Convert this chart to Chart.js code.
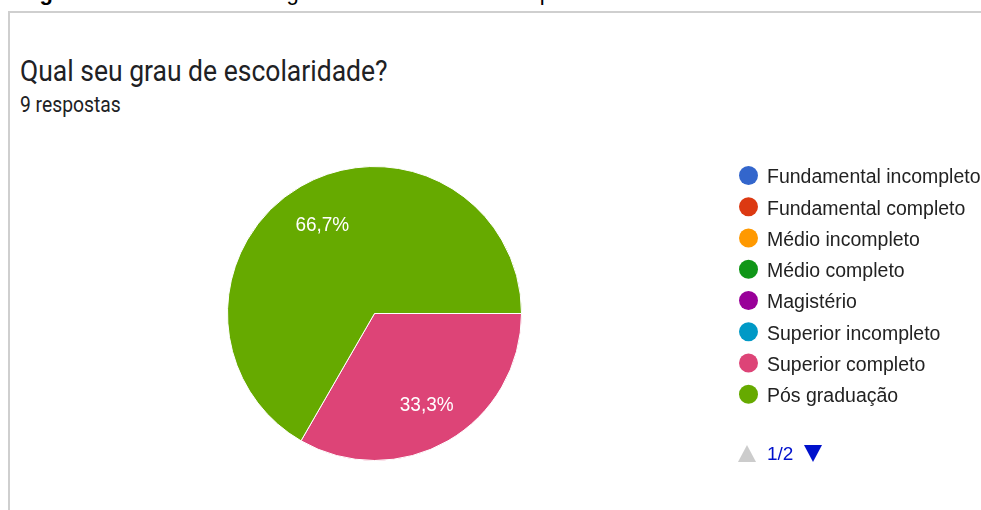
<!DOCTYPE html>
<html lang="pt">
<head>
  <meta charset="UTF-8">
  <title>Qual seu grau de escolaridade?</title>
  <script src="https://cdn.jsdelivr.net/npm/chart.js"></script>
  <style>
    html, body { margin: 0; padding: 0; background: #fff; }
    body { width: 981px; height: 510px; position: relative; overflow: hidden; font-family: Roboto, Arial, sans-serif; }
    .caption { position: absolute; left: 20px; top: -17.6px; font: 22px/22px Arial, "Liberation Sans", sans-serif; color: #000; white-space: nowrap; }
    .card { position: absolute; left: 8px; top: 11px; width: 1000px; height: 600px; border: 2px solid #cfcfcf; box-sizing: border-box; }
    h1 { position: absolute; left: 20px; top: 56px; margin: 0; font: 400 26.5px/1 Roboto, sans-serif; color: #202124; white-space: nowrap; transform: scaleY(1.13); transform-origin: 0 0; }
    .sub { position: absolute; left: 20px; top: 94px; font: 400 19.3px/1 Roboto, sans-serif; color: #202124; white-space: nowrap; transform: scaleY(1.15); transform-origin: 0 0; }
    canvas { position: absolute; left: 0; top: 0; }
    .tri-up { position: absolute; left: 738px; top: 445px; width: 0; height: 0; border-left: 9px solid transparent; border-right: 9px solid transparent; border-bottom: 17px solid #cccccc; }
    .tri-down { position: absolute; left: 803.5px; top: 445px; width: 0; height: 0; border-left: 9.5px solid transparent; border-right: 9.5px solid transparent; border-top: 17px solid #0011cc; }
    .page { position: absolute; left: 767px; top: 444px; font: 19px/1 Arial, "Liberation Sans", sans-serif; color: #0011cc; white-space: nowrap; }
  </style>
</head>
<body>
  <div class="caption"><b>Figura 5 –</b> Gráfico sobre o grau de escolaridade dos professores</div>
  <div class="card"></div>
  <h1>Qual seu grau de escolaridade?</h1>
  <div class="sub">9 respostas</div>
  <canvas id="pie" width="981" height="510"></canvas>
  <div class="tri-up"></div>
  <div class="page">1/2</div>
  <div class="tri-down"></div>

  <script>
    const categories = [
      "Fundamental incompleto",
      "Fundamental completo",
      "Médio incompleto",
      "Médio completo",
      "Magistério",
      "Superior incompleto",
      "Superior completo",
      "Pós graduação"
    ];
    const answers = [0, 0, 0, 0, 0, 0, 3, 6];
    const colors = ["#3366cc", "#dc3912", "#ff9900", "#109618", "#990099", "#0099c6", "#dd4477", "#66aa00"];

    // percent labels inside the slices, google style
    const sliceLabels = {
      id: 'sliceLabels',
      afterDatasetsDraw(chart) {
        const ctx = chart.ctx;
        const data = chart.data.datasets[0].data;
        const total = data.reduce((a, b) => a + b, 0);
        ctx.save();
        ctx.font = '19px Arial, "Liberation Sans", sans-serif';
        ctx.fillStyle = '#ffffff';
        ctx.textAlign = 'center';
        ctx.textBaseline = 'alphabetic';
        chart.getDatasetMeta(0).data.forEach((arc, i) => {
          if (!data[i]) return;
          const p = arc.getProps(['x', 'y', 'startAngle', 'endAngle', 'outerRadius'], true);
          const mid = (p.startAngle + p.endAngle) / 2;
          const r = p.outerRadius * 0.71;
          const txt = (data[i] / total * 100).toFixed(1).replace('.', ',') + '%';
          ctx.save();
          ctx.translate(p.x + Math.cos(mid) * r, p.y + Math.sin(mid) * r + 7.5);
          ctx.scale(1, 1.1);
          ctx.fillText(txt, 0, 0);
          ctx.restore();
        });
        ctx.restore();
      }
    };

    // legend on the right
    const sideLegend = {
      id: 'sideLegend',
      afterDraw(chart) {
        const ctx = chart.ctx;
        const bg = chart.data.datasets[0].backgroundColor;
        ctx.save();
        ctx.font = '19.5px Arial, "Liberation Sans", sans-serif';
        ctx.textBaseline = 'alphabetic';
        chart.data.labels.forEach((label, i) => {
          const y = 175.5 + i * 31.25;
          ctx.beginPath();
          ctx.arc(748.5, y, 9.5, 0, Math.PI * 2);
          ctx.fillStyle = bg[i];
          ctx.fill();
          ctx.fillStyle = '#222222';
          ctx.save();
          ctx.translate(767, y + 7.8);
          ctx.scale(1, 1.08);
          ctx.fillText(label, 0, 0);
          ctx.restore();
        });
        ctx.restore();
      }
    };

    new Chart(document.getElementById('pie'), {
      type: 'pie',
      data: {
        labels: categories,
        datasets: [{
          data: answers,
          backgroundColor: colors,
          borderColor: '#ffffff',
          borderWidth: 1
        }]
      },
      options: {
        responsive: false,
        animation: false,
        rotation: 90,
        layout: { padding: { left: 227, right: 459, top: 166, bottom: 49 } },
        plugins: {
          legend: { display: false },
          tooltip: { enabled: false }
        }
      },
      plugins: [sliceLabels, sideLegend]
    });
  </script>
</body>
</html>
